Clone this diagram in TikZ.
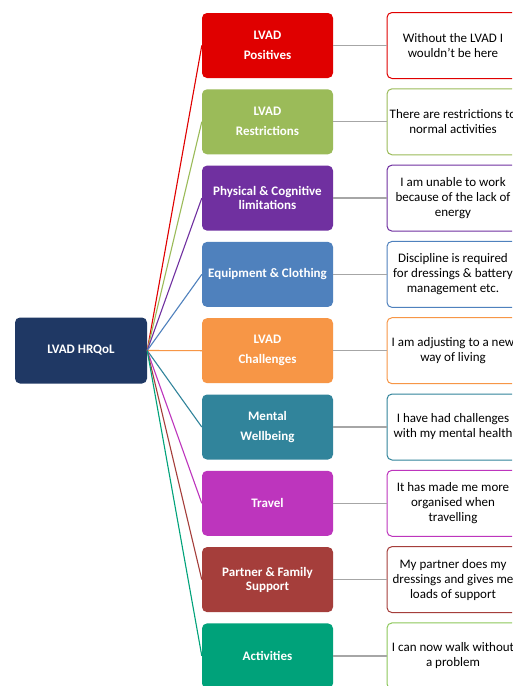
\documentclass[tikz,border=0pt]{standalone}
\usepackage{fontspec}
\setmainfont{Carlito}
\definecolor{cnavy}{HTML}{1F3864}
\definecolor{cred}{HTML}{E00000}
\definecolor{cgreen}{HTML}{9BBB59}
\definecolor{cpurple}{HTML}{7030A0}
\definecolor{cblue}{HTML}{4F81BD}
\definecolor{corange}{HTML}{F79646}
\definecolor{cteal}{HTML}{31849B}
\definecolor{cmagenta}{HTML}{BD35BD}
\definecolor{cbrown}{HTML}{A53E3B}
\definecolor{cact}{HTML}{00A27A}
\definecolor{cqact}{HTML}{8CC75A}
\definecolor{cgray}{HTML}{A6A6A6}
\begin{document}
\begin{tikzpicture}[x=1pt,y=-1pt]
\tikzset{
  catbox/.style={rounded corners=5pt, minimum width=131pt, minimum height=65pt,
    text=white, font=\fontsize{13}{14}\selectfont\bfseries, align=center, inner sep=0pt},
  quotebox/.style={draw, line width=1pt, rounded corners=5pt, fill=white,
    minimum width=132pt, minimum height=66pt, font=\fontsize{13}{15}\selectfont,
    align=center, inner sep=0pt},
  link/.style={line width=1.1pt},
  graylink/.style={draw=cgray, line width=1.3pt}
}
\useasboundingbox (0,0) rectangle (512,686);
\clip (0,0) rectangle (512,686);
\fill[white] (0,0) rectangle (512,686);

\node[catbox, fill=cnavy, minimum width=132pt, minimum height=66pt] (root) at (81,350.5) {LVAD HRQoL};

\node[catbox, fill=cred] (c1) at (267.5,45.5) {LVAD\\[6pt]Positives};
\node[catbox, fill=cgreen] (c2) at (267.5,121.8) {LVAD\\[6pt]Restrictions};
\node[catbox, fill=cpurple] (c3) at (267.5,198.1) {Physical \& Cognitive\\limitations};
\node[catbox, fill=cblue] (c4) at (267.5,274.4) {Equipment \& Clothing};
\node[catbox, fill=corange] (c5) at (267.5,350.7) {LVAD\\[6pt]Challenges};
\node[catbox, fill=cteal] (c6) at (267.5,427) {Mental\\[6pt]Wellbeing};
\node[catbox, fill=cmagenta] (c7) at (267.5,503.3) {Travel};
\node[catbox, fill=cbrown] (c8) at (267.5,579.6) {Partner \& Family\\Support};
\node[catbox, fill=cact] (c9) at (267.5,655.9) {Activities};

\node[quotebox, draw=cred] (q1) at (453,45.5) {Without the LVAD I\\wouldn’t be here};
\node[quotebox, draw=cgreen] (q2) at (453,121.8) {There are restrictions to\\normal activities};
\node[quotebox, draw=cpurple] (q3) at (453,198.1) {I am unable to work\\because of the lack of\\energy};
\node[quotebox, draw=cblue] (q4) at (453,274.4) {Discipline is required\\for dressings \& battery\\management etc.};
\node[quotebox, draw=corange] (q5) at (453,350.7) {I am adjusting to a new\\way of living};
\node[quotebox, draw=cteal] (q6) at (453,427) {I have had challenges\\with my mental health};
\node[quotebox, draw=cmagenta] (q7) at (453,503.3) {It has made me more\\organised when\\travelling};
\node[quotebox, draw=cbrown] (q8) at (453,579.6) {My partner does my\\dressings and gives me\\loads of support};
\node[quotebox, draw=cqact] (q9) at (453,655.9) {I can now walk without\\a problem};

\foreach \i/\col in {1/cred,2/cgreen,3/cpurple,4/cblue,5/corange,6/cteal,7/cmagenta,8/cbrown,9/cact}{
  \draw[link, draw=\col] (root.east) -- (c\i.west);
  \draw[graylink] (c\i.east) -- (q\i.west);
}
\end{tikzpicture}
\end{document}
